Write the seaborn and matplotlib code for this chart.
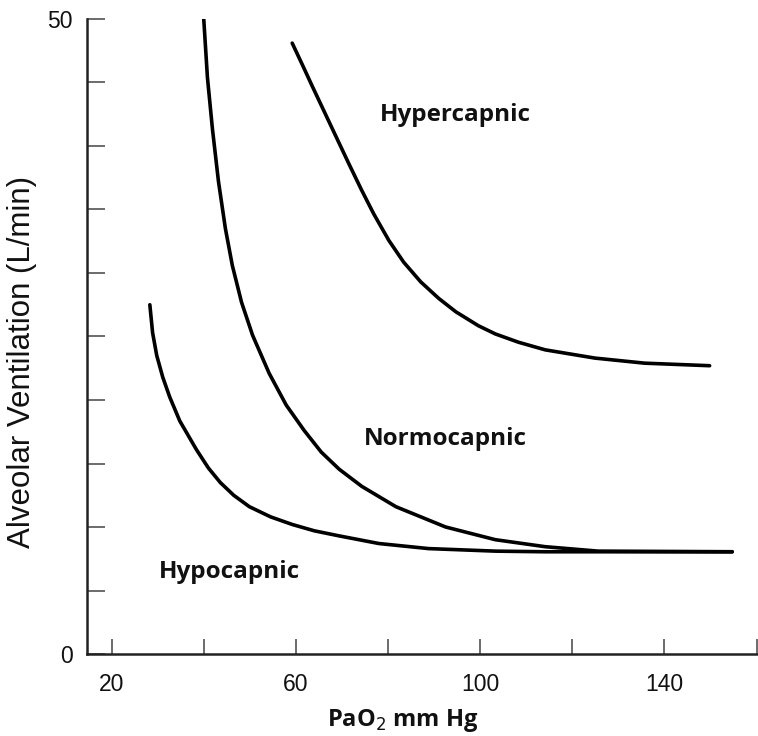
import numpy as np
import pandas as pd
import matplotlib
matplotlib.use("Agg")
import matplotlib.pyplot as plt
import seaborn as sns

# ---- data ----
hypo_x = [28.3, 28.9, 29.8, 31.1, 32.6, 34.8, 38.4, 41.0, 43.6, 46.5, 49.9, 54.5, 59.2, 64.0, 69.4,
          78.0, 88.8, 103.3, 114.1, 154.7]
hypo_y = [27.5, 25.3, 23.5, 21.8, 20.25, 18.35, 16.1, 14.65, 13.5, 12.5, 11.6, 10.8, 10.2, 9.7, 9.3,
          8.7, 8.3, 8.1, 8.05, 8.05]

normo_x = [40.0, 40.8, 41.9, 43.2, 44.7, 46.2, 48.2, 50.6, 54.2, 57.9, 61.8, 65.5, 69.4, 74.3, 81.7,
           92.5, 103.3, 114.1, 125.6, 154.7]
normo_y = [50.0, 45.4, 41.3, 37.2, 33.5, 30.6, 27.7, 25.1, 22.1, 19.6, 17.6, 15.9, 14.55, 13.2, 11.6,
           10.0, 9.0, 8.45, 8.1, 8.05]

hyper_x = [59.2, 61.4, 63.5, 66.1, 68.7, 71.5, 74.3, 76.9, 80.2, 83.4, 87.1, 91.0, 94.7, 99.6,
           103.3, 108.3, 114.1, 124.9, 135.7, 149.8]
hyper_y = [48.1, 46.4, 44.75, 42.75, 40.75, 38.6, 36.5, 34.65, 32.55, 30.85, 29.3, 28.0, 26.95, 25.85,
           25.2, 24.55, 23.95, 23.3, 22.9, 22.7]

region_labels = ["Hypercapnic", "Normocapnic", "Hypocapnic"]
label_x = [94.6, 92.5, 45.5]
label_y = [42.0, 16.45, 5.95]

x_ticks = [20, 40, 60, 80, 100, 120, 140, 160]
x_tick_labels = ["20", "", "60", "", "100", "", "140", ""]
y_ticks = [0, 5, 10, 15, 20, 25, 30, 35, 40, 45, 50]
y_tick_labels = ["0", "", "", "", "", "", "", "", "", "", "50"]

df = pd.concat([
    pd.DataFrame({"PaO2": hypo_x, "VA": hypo_y, "curve": "Hypocapnic"}),
    pd.DataFrame({"PaO2": normo_x, "VA": normo_y, "curve": "Normocapnic"}),
    pd.DataFrame({"PaO2": hyper_x, "VA": hyper_y, "curve": "Hypercapnic"}),
], ignore_index=True)

sns.set_theme(style="white")
plt.rcParams["font.family"] = ["Liberation Sans", "DejaVu Sans"]

fig = plt.figure(figsize=(7.58, 7.36), dpi=100)
ax = fig.add_axes([0.1144, 0.1114, 0.8856, 0.8628])

sns.lineplot(data=df, x="PaO2", y="VA", hue="curve", units="curve", estimator=None,
             palette={"Hypocapnic": "black", "Normocapnic": "black", "Hypercapnic": "black"},
             linewidth=2.6, legend=False, ax=ax, sort=True)
for ln in ax.get_lines():
    ln.set_solid_capstyle("round")
    ln.set_solid_joinstyle("round")

ax.set_xlim(14.6, 160.3)
ax.set_ylim(0, 50)

ax.set_xticks(x_ticks)
ax.set_xticklabels(x_tick_labels)
ax.set_yticks(y_ticks)
ax.set_yticklabels(y_tick_labels)

ax.tick_params(axis="x", bottom=True, direction="in", length=11, width=1.1, color="#444444",
               labelsize=16.5, pad=14, labelcolor="#111111")
ax.tick_params(axis="y", left=True, direction="in", length=13, width=1.1, color="#444444",
               labelsize=16.5, pad=10, labelcolor="#111111")

for side in ["top", "right"]:
    ax.spines[side].set_visible(False)
for side in ["left", "bottom"]:
    ax.spines[side].set_color("#222222")
    ax.spines[side].set_linewidth(1.8)

ax.set_xlabel("PaO$_2$ mm Hg", fontsize=17, fontfamily="Open Sans", fontweight="bold",
              color="#111111")
ax.xaxis.label.set_va("baseline")
ax.xaxis.set_label_coords(0.471, -0.113)

ax.set_ylabel("Alveolar Ventilation (L/min)", fontsize=22.5, color="#111111")
ax.yaxis.label.set_va("center")
ax.yaxis.set_label_coords(-0.0964, 0.46)

for t, x, y in zip(region_labels, label_x, label_y):
    ax.text(x, y, t, ha="center", va="baseline", fontsize=17.5,
            fontfamily="Open Sans", fontweight="bold", color="#111111")

fig.savefig("out.png", dpi=100)
